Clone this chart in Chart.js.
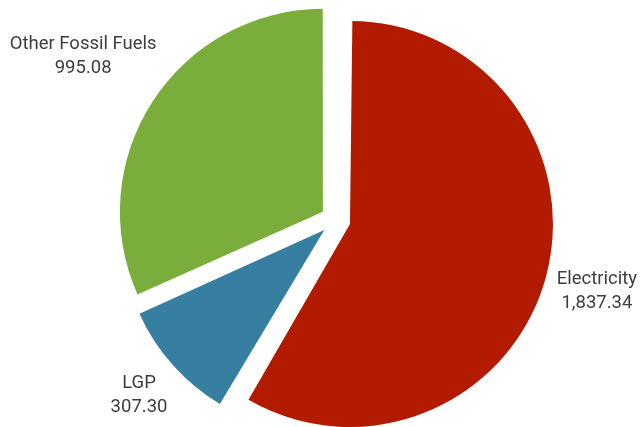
<!DOCTYPE html>
<html>
<head>
<meta charset="utf-8">
<script src="https://cdn.jsdelivr.net/npm/chart.js@4"></script>
<style>
  html, body { margin: 0; padding: 0; background: #fff; }
  #wrap { width: 641px; height: 427px; position: relative; }
</style>
</head>
<body>
<div id="wrap"><canvas id="pie"></canvas></div>
<script>
// --- Datos ---
const LABELS = ['Electricity', 'LGP', 'Other Fossil Fuels'];
const VALUES = [1837.34, 307.30, 995.08];
const COLORS = ['#b31b00', '#367fa0', '#7aad3c'];

const FONT = '18.5px Roboto';
const LINE_H = 24;
const TEXT_COLOR = '#3d3d3d';

const fmt = v => v.toLocaleString('en-US', { minimumFractionDigits: 2, maximumFractionDigits: 2 });

// Chart.js agranda el radio de los arcos con offset; lo devolvemos al radio base
const fixRadius = {
  id: 'fixRadius',
  beforeDatasetsDraw(chart) {
    const meta = chart.getDatasetMeta(0);
    const base = meta.controller.outerRadius;
    meta.data.forEach(arc => {
      const off = (arc.options.offset || 0) / 4;
      const fix = 1 - Math.sin(Math.min(Math.PI, arc.circumference));
      arc.outerRadius = base - off * fix;
    });
  }
};

// Etiquetas fuera de cada porción
const outLabels = {
  id: 'outLabels',
  afterDatasetsDraw(chart) {
    const ctx = chart.ctx;
    const meta = chart.getDatasetMeta(0);
    const r = meta.controller.outerRadius;
    ctx.save();
    ctx.font = FONT;
    ctx.fillStyle = TEXT_COLOR;
    ctx.textAlign = 'center';
    ctx.textBaseline = 'middle';
    meta.data.forEach((arc, i) => {
      const mid = (arc.startAngle + arc.endAngle) / 2;
      const dx = Math.cos(mid), dy = Math.sin(mid);
      const off = (arc.options.offset || 0) / 4;
      const l1 = LABELS[i], l2 = fmt(VALUES[i]);
      const w = Math.max(ctx.measureText(l1).width, ctx.measureText(l2).width);
      const h = LINE_H * 2;
      const dist = off + r + 8 + Math.abs(dx) * w / 2 + Math.abs(dy) * h / 2;
      const x = arc.x + dx * dist, y = arc.y + dy * dist;
      ctx.fillText(l1, x, y - LINE_H / 2);
      ctx.fillText(l2, x, y + LINE_H / 2);
    });
    ctx.restore();
  }
};

new Chart(document.getElementById('pie'), {
  type: 'pie',
  data: {
    labels: LABELS,
    datasets: [{
      data: VALUES,
      backgroundColor: COLORS,
      borderWidth: 0,
      offset: 60,
      hoverOffset: 60
    }]
  },
  options: {
    responsive: true,
    maintainAspectRatio: false,
    animation: false,
    radius: 203,
    layout: { padding: { left: 30, right: 0, top: 13, bottom: 0 } },
    plugins: {
      legend: { display: false },
      tooltip: { enabled: false }
    }
  },
  plugins: [fixRadius, outLabels]
});
</script>
</body>
</html>
